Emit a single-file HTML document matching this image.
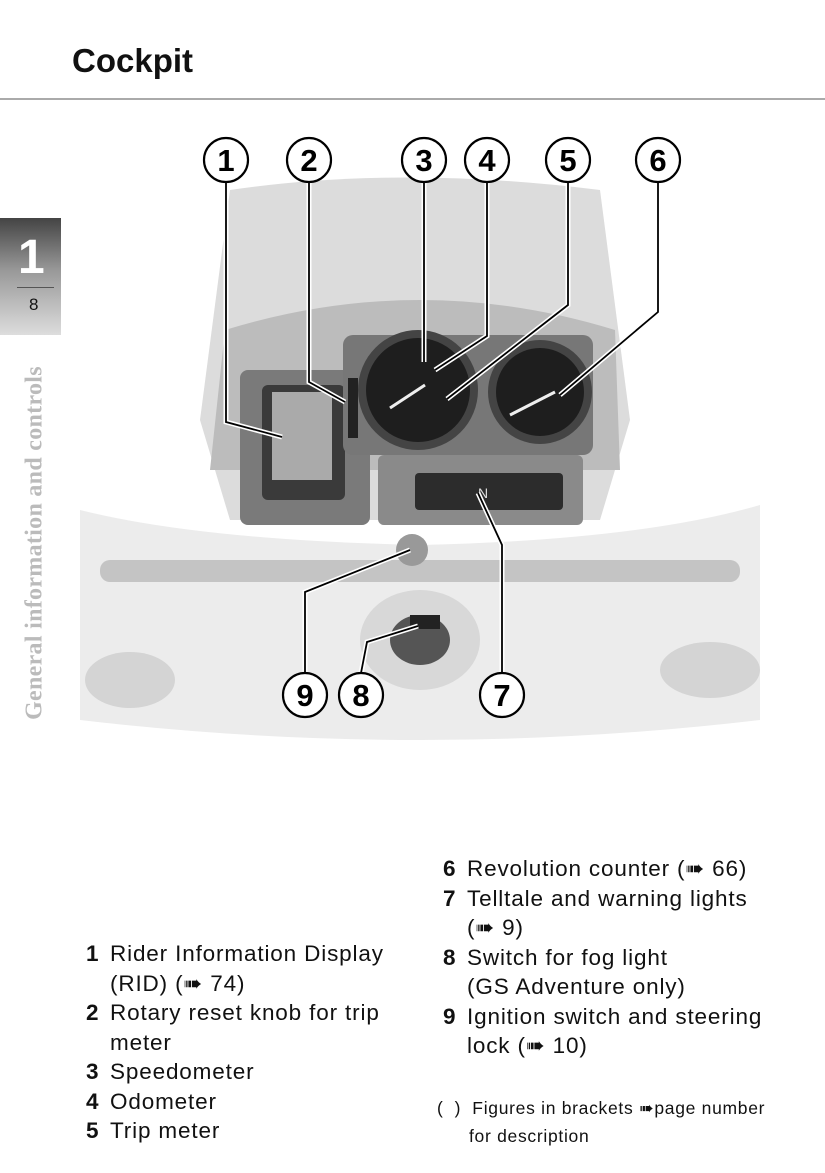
<!DOCTYPE html>
<html><head><meta charset="utf-8"><style>
body{margin:0;background:#fff;}
#p{position:relative;width:825px;height:1173px;overflow:hidden;font-family:"Liberation Sans",sans-serif;color:#111;}
.t{position:absolute;font-size:22.5px;letter-spacing:0.85px;line-height:29.5px;white-space:nowrap;}
.t b{display:inline-block;width:24px;letter-spacing:0;}
.in{padding-left:24px;}
</style></head><body><div id="p">
<div style="position:absolute;left:72px;top:42px;font-size:33px;font-weight:bold;">Cockpit</div>
<div style="position:absolute;left:0;top:98px;width:825px;height:2px;background:#aaa;"></div>
<div style="position:absolute;left:0;top:218px;width:61px;height:117px;background:linear-gradient(#444,#999 45%,#ddd);"></div>
<div style="position:absolute;left:18px;top:230px;font-size:48px;font-weight:bold;color:#fff;">1</div>
<div style="position:absolute;left:17px;top:287px;width:37px;height:1px;background:#555;"></div>
<div style="position:absolute;left:29px;top:295px;font-size:17px;">8</div>
<div style="position:absolute;left:35px;top:543px;transform:translate(-50%,-50%) rotate(-90deg);font-family:'Liberation Serif',serif;font-weight:bold;font-size:24px;letter-spacing:0.3px;color:#bbb;white-space:nowrap;">General information and controls</div>

<svg style="position:absolute;left:0;top:0" width="825" height="1173">
<path d="M230 190 Q400 165 600 190 L630 420 L600 520 L230 520 L200 420 Z" fill="#dcdcdc"/>
<path d="M225 330 Q420 270 615 330 L620 470 L210 470 Z" fill="#bcbcbc"/>
<path d="M80 510 Q200 540 420 545 Q640 540 760 505 L760 720 Q420 760 80 720 Z" fill="#ececec"/>
<rect x="100" y="560" width="640" height="22" rx="10" fill="#c4c4c4"/>
<ellipse cx="130" cy="680" rx="45" ry="28" fill="#d4d4d4"/>
<ellipse cx="710" cy="670" rx="50" ry="28" fill="#d4d4d4"/>
<ellipse cx="420" cy="640" rx="60" ry="50" fill="#d8d8d8"/>
<ellipse cx="420" cy="640" rx="30" ry="25" fill="#555"/>
<rect x="410" y="615" width="30" height="14" fill="#222"/>
<circle cx="412" cy="550" r="16" fill="#999"/>
<rect x="240" y="370" width="130" height="155" rx="8" fill="#7a7a7a"/>
<rect x="262" y="385" width="83" height="115" rx="6" fill="#3a3a3a"/>
<rect x="272" y="392" width="60" height="88" fill="#aaa"/>
<rect x="343" y="335" width="250" height="120" rx="10" fill="#777"/>
<circle cx="418" cy="390" r="60" fill="#444"/><circle cx="418" cy="390" r="52" fill="#1e1e1e"/>
<circle cx="540" cy="392" r="52" fill="#444"/><circle cx="540" cy="392" r="44" fill="#1e1e1e"/>
<line x1="390" y1="408" x2="425" y2="385" stroke="#eee" stroke-width="3"/>
<line x1="510" y1="415" x2="555" y2="392" stroke="#eee" stroke-width="3"/>
<rect x="348" y="378" width="10" height="60" fill="#222"/>
<rect x="378" y="455" width="205" height="70" rx="6" fill="#8a8a8a"/>
<rect x="415" y="473" width="148" height="37" rx="4" fill="#2c2c2c"/>
<text x="478" y="498" font-family="Liberation Sans" font-size="14" fill="#ddd">N</text>
<g stroke="#fff" stroke-width="5" fill="none">
<polyline points="226,182 226,422 282,437"/><polyline points="309,182 309,382 345,402"/><polyline points="424,182 424,362"/><polyline points="487,182 487,336 435,370"/><polyline points="568,182 568,305 447,399"/><polyline points="658,182 658,312 560,395"/><polyline points="502,673 502,545 478,493"/><polyline points="361,673 367,642 418,626"/><polyline points="305,673 305,592 410,550"/>
</g>
<g stroke="#000" stroke-width="1.8" fill="none">
<polyline points="226,182 226,422 282,437"/><polyline points="309,182 309,382 345,402"/><polyline points="424,182 424,362"/><polyline points="487,182 487,336 435,370"/><polyline points="568,182 568,305 447,399"/><polyline points="658,182 658,312 560,395"/><polyline points="502,673 502,545 478,493"/><polyline points="361,673 367,642 418,626"/><polyline points="305,673 305,592 410,550"/>
</g>
<g fill="#fff" stroke="#000" stroke-width="2.2">
<circle cx="226" cy="160" r="22"/><circle cx="309" cy="160" r="22"/><circle cx="424" cy="160" r="22"/><circle cx="487" cy="160" r="22"/><circle cx="568" cy="160" r="22"/><circle cx="658" cy="160" r="22"/><circle cx="305" cy="695" r="22"/><circle cx="361" cy="695" r="22"/><circle cx="502" cy="695" r="22"/>
</g>
<g font-family="Liberation Sans" font-weight="bold" font-size="31" text-anchor="middle">
<text x="226" y="171">1</text><text x="309" y="171">2</text><text x="424" y="171">3</text><text x="487" y="171">4</text><text x="568" y="171">5</text><text x="658" y="171">6</text><text x="305" y="706">9</text><text x="361" y="706">8</text><text x="502" y="706">7</text>
</g>
</svg>

<div class="t" style="left:86px;top:939px;"><b>1</b>Rider Information Display<br><span class="in">(RID) (➠ 74)</span><br><b>2</b>Rotary reset knob for trip<br><span class="in">meter</span><br><b>3</b>Speedometer<br><b>4</b>Odometer<br><b>5</b>Trip meter</div>
<div class="t" style="left:443px;top:854px;"><b>6</b>Revolution counter (➠ 66)<br><b>7</b>Telltale and warning lights<br><span class="in">(➠ 9)</span><br><b>8</b>Switch for fog light<br><span class="in">(GS Adventure only)</span><br><b>9</b>Ignition switch and steering<br><span class="in">lock (➠ 10)</span></div>
<div style="position:absolute;left:437px;top:1094px;font-size:17.5px;letter-spacing:0.7px;line-height:28px;white-space:nowrap;">(&nbsp;&nbsp;)&nbsp; Figures in brackets ➠page number<br><span style="padding-left:32px">for description</span></div>
</div></body></html>
